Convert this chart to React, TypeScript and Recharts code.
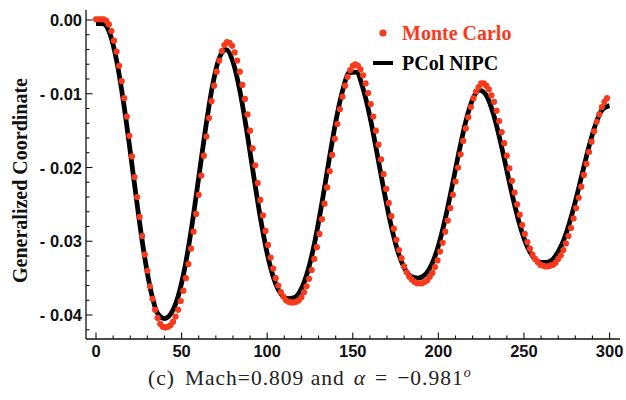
import React from 'react';
import { ComposedChart, Scatter, Line, XAxis, YAxis, Legend } from 'recharts';

// Monte Carlo samples, one every 1.5 time units starting at 0
const mcStep = 1.5;
const mcValues = [
  0.0001, 0.0001, 0.0001, 0.0001, -0.0001, -0.0006, -0.0015, -0.0028, -0.0043, -0.0062,
  -0.0083, -0.0106, -0.0131, -0.0157, -0.0185, -0.0213, -0.024, -0.0267, -0.0293, -0.0318,
  -0.034, -0.0361, -0.0378, -0.0393, -0.0404, -0.0412, -0.0416, -0.0417, -0.0416, -0.0414,
  -0.0409, -0.0402, -0.0393, -0.0381, -0.0367, -0.035, -0.0331, -0.031, -0.0287, -0.0263,
  -0.0237, -0.0211, -0.0184, -0.0158, -0.0133, -0.011, -0.0089, -0.007, -0.0055, -0.0042,
  -0.0034, -0.003, -0.0031, -0.0035, -0.0044, -0.0055, -0.007, -0.0088, -0.0107, -0.0128,
  -0.015, -0.0174, -0.0197, -0.0221, -0.0244, -0.0265, -0.0286, -0.0305, -0.0322, -0.0337,
  -0.035, -0.036, -0.0369, -0.0375, -0.038, -0.0382, -0.0383, -0.0383, -0.0382, -0.038,
  -0.0376, -0.0369, -0.0361, -0.0351, -0.0339, -0.0324, -0.0308, -0.029, -0.027, -0.0249,
  -0.0227, -0.0205, -0.0183, -0.0161, -0.0141, -0.0121, -0.0104, -0.0089, -0.0077, -0.0068,
  -0.0062, -0.006, -0.0062, -0.0067, -0.0075, -0.0086, -0.0099, -0.0114, -0.0131, -0.015,
  -0.0169, -0.0189, -0.0209, -0.0229, -0.0248, -0.0266, -0.0283, -0.0298, -0.0312, -0.0323,
  -0.0334, -0.0342, -0.0348, -0.0352, -0.0355, -0.0357, -0.0357, -0.0357, -0.0355, -0.0353,
  -0.0348, -0.0343, -0.0335, -0.0326, -0.0314, -0.0302, -0.0287, -0.0272, -0.0255, -0.0237,
  -0.0219, -0.02, -0.0182, -0.0164, -0.0147, -0.0132, -0.0118, -0.0106, -0.0097, -0.0091,
  -0.0086, -0.0086, -0.0089, -0.0094, -0.0102, -0.0111, -0.0123, -0.0137, -0.0152, -0.0167,
  -0.0184, -0.0201, -0.0218, -0.0234, -0.025, -0.0264, -0.0278, -0.029, -0.0301, -0.031,
  -0.0318, -0.0324, -0.0328, -0.0332, -0.0333, -0.0334, -0.0334, -0.0333, -0.0332, -0.0329,
  -0.0324, -0.0319, -0.0312, -0.0303, -0.0293, -0.0282, -0.0269, -0.0255, -0.0241, -0.0226,
  -0.021, -0.0195, -0.0179, -0.0165, -0.0151, -0.0138, -0.0128, -0.0118, -0.0111, -0.0106,
];

// PCol NIPC curve, one value every 4 time units from 0 to 300
const nipcStep = 4;
const nipcValues = [
  -0.0005, -0.0005, -0.00178, -0.00544, -0.01102, -0.01782, -0.02495, -0.03152, -0.03668, -0.03978,
  -0.04048, -0.03974, -0.03746, -0.03345, -0.0279, -0.02138, -0.01474, -0.00899, -0.00516, -0.00402,
  -0.00566, -0.00954, -0.01494, -0.02097, -0.02677, -0.03165, -0.03516, -0.03714, -0.03779, -0.03762,
  -0.03642, -0.03383, -0.02986, -0.0248, -0.0192, -0.01386, -0.00961, -0.00712, -0.00708, -0.0093,
  -0.01308, -0.01785, -0.02287, -0.02747, -0.03113, -0.03357, -0.03477, -0.035, -0.0346, -0.0332,
  -0.03063, -0.02697, -0.02256, -0.01794, -0.01378, -0.01079, -0.00952, -0.01022, -0.01262, -0.01623,
  -0.02042, -0.02456, -0.02813, -0.03076, -0.03231, -0.03287, -0.03282, -0.03213, -0.03052, -0.02796,
  -0.02463, -0.02086, -0.01714, -0.01403, -0.01207, -0.0116,
];

const xMajorTicks = [0, 50, 100, 150, 200, 250, 300];
const xTicks = [
  0, 10, 20, 30, 40, 50, 60, 70, 80, 90, 100, 110, 120, 130, 140, 150,
  160, 170, 180, 190, 200, 210, 220, 230, 240, 250, 260, 270, 280, 290, 300,
];
const yMajorTicks = [0, -0.01, -0.02, -0.03, -0.04];
const yTicks = [
  0, -0.002, -0.004, -0.006, -0.008, -0.01, -0.012, -0.014, -0.016, -0.018, -0.02,
  -0.022, -0.024, -0.026, -0.028, -0.03, -0.032, -0.034, -0.036, -0.038, -0.04, -0.042,
];

const monteCarlo = mcValues.map((y, i) => ({ t: i * mcStep, y }));
const nipc = nipcValues.map((y, i) => ({ t: i * nipcStep, y }));

const RED = '#f83a1c';
const X_DOMAIN: [number, number] = [-5.84, 306.1];
const Y_DOMAIN: [number, number] = [-0.043254, 0.001356];
const tickFont = "'Liberation Sans', Arial, sans-serif";
const serif = "'Liberation Serif', 'Times New Roman', serif";

const inList = (list: number[], v: number) => list.some((m) => Math.abs(m - v) < 1e-9);

const BottomTick = ({ x, y, payload }: any) => {
  const major = inList(xMajorTicks, payload.value);
  return (
    <g>
      <line x1={x} x2={x} y1={y} y2={y - (major ? 6.5 : 3.5)} stroke="#111" strokeWidth={1.1} />
      {major && (
        <text x={x} y={y + 18} textAnchor="middle" fontFamily={tickFont} fontWeight="bold" fontSize={16.5} fill="#111">
          {payload.value}
        </text>
      )}
    </g>
  );
};

const TopTick = ({ x, y, payload }: any) => {
  const major = inList(xMajorTicks, payload.value);
  return <line x1={x} x2={x} y1={y} y2={y + (major ? 6.5 : 3.5)} stroke="#555" strokeWidth={1.1} />;
};

const LeftTick = ({ x, y, payload }: any) => {
  const major = inList(yMajorTicks, payload.value);
  const v = payload.value;
  const label = Math.abs(v) < 1e-12 ? '0.00' : '- ' + Math.abs(v).toFixed(2);
  return (
    <g>
      <line x1={x} x2={x + (major ? 6.5 : 3.5)} y1={y} y2={y} stroke="#111" strokeWidth={1.1} />
      {major && (
        <text x={x - 4} y={y + 6} textAnchor="end" fontFamily={tickFont} fontWeight="bold" fontSize={16.5} fill="#111">
          {label}
        </text>
      )}
    </g>
  );
};

const RightTick = ({ x, y, payload }: any) => {
  const major = inList(yMajorTicks, payload.value);
  return <line x1={x} x2={x - (major ? 6.5 : 3.5)} y1={y} y2={y} stroke="#555" strokeWidth={1.1} />;
};

const YLabel = ({ viewBox }: any) => {
  const cx = 27;
  const cy = viewBox ? viewBox.y + viewBox.height / 2 + 6 : 181;
  return (
    <text
      x={cx}
      y={cy}
      transform={`rotate(-90, ${cx}, ${cy})`}
      textAnchor="middle"
      fontFamily={serif}
      fontWeight="bold"
      fontSize={20}
      fill="#111"
    >
      Generalized Coordinate
    </text>
  );
};

const Caption = () => (
  <text x={148} y={385} fontFamily={serif} fontSize={21.5} letterSpacing={1} fill="#222">
    (c)
    <tspan dx={10}>Mach=0.809 and</tspan>
    <tspan dx={9} fontStyle="italic">α</tspan>
    <tspan dx={9}>=</tspan>
    <tspan dx={9}>−0.981</tspan>
    <tspan fontStyle="italic" fontSize={14} dy={-8}>o</tspan>
  </text>
);

const LegendContent = ({ payload }: any) => (
  <div>
    {(payload || []).map((entry: any) => (
      <svg key={entry.value} width={220} height={30} style={{ display: 'block' }}>
        {entry.type === 'line' ? (
          <line x1={5} x2={25} y1={15} y2={15} stroke={entry.color} strokeWidth={4} />
        ) : (
          <circle cx={15} cy={15} r={3.6} fill={entry.color} />
        )}
        <text x={34} y={22} fill={entry.color} fontFamily={serif} fontWeight="bold" fontSize={20}>
          {entry.value}
        </text>
      </svg>
    ))}
  </div>
);

const Dot = (props: any) => <circle cx={props.cx} cy={props.cy} r={3.1} fill={RED} />;

export default function App() {
  return (
    <div style={{ position: 'absolute', left: 0, top: 0, width: 626, height: 400, background: '#fff' }}>
      <ComposedChart width={626} height={400} margin={{ top: 10, right: 6, bottom: 0, left: 0 }}>
        <XAxis
          dataKey="t"
          type="number"
          domain={X_DOMAIN}
          allowDataOverflow
          ticks={xTicks}
          interval={0}
          height={61}
          tickSize={0}
          tickMargin={0}
          tickLine={false}
          tick={<BottomTick />}
          axisLine={{ stroke: '#111', strokeWidth: 1.3 }}
          label={<Caption />}
        />
        <XAxis
          xAxisId="top"
          orientation="top"
          dataKey="t"
          type="number"
          domain={X_DOMAIN}
          allowDataOverflow
          ticks={xTicks}
          interval={0}
          height={0}
          tickSize={0}
          tickMargin={0}
          tickLine={false}
          tick={<TopTick />}
          axisLine={{ stroke: '#555', strokeWidth: 1.1 }}
        />
        <YAxis
          dataKey="y"
          type="number"
          domain={Y_DOMAIN}
          allowDataOverflow
          ticks={yTicks}
          interval={0}
          width={86}
          tickSize={0}
          tickMargin={0}
          tickLine={false}
          tick={<LeftTick />}
          axisLine={{ stroke: '#111', strokeWidth: 1.3 }}
          label={<YLabel />}
        />
        <YAxis
          yAxisId="right"
          orientation="right"
          dataKey="y"
          type="number"
          domain={Y_DOMAIN}
          allowDataOverflow
          ticks={yTicks}
          interval={0}
          width={0}
          tickSize={0}
          tickMargin={0}
          tickLine={false}
          tick={<RightTick />}
          axisLine={{ stroke: '#555', strokeWidth: 1.1 }}
        />
        <Legend
          layout="vertical"
          align="center"
          verticalAlign="middle"
          content={<LegendContent />}
          wrapperStyle={{ left: 368, top: 18, width: 220, height: 60 }}
        />
        <Scatter
          name="Monte Carlo"
          data={monteCarlo}
          dataKey="y"
          xAxisId="top"
          yAxisId="right"
          fill={RED}
          shape={<Dot />}
          legendType="circle"
          isAnimationActive={false}
        />
        <Line
          name="PCol NIPC"
          data={nipc}
          dataKey="y"
          type="monotone"
          stroke="#000"
          strokeWidth={4.8}
          dot={false}
          activeDot={false}
          legendType="line"
          isAnimationActive={false}
        />
      </ComposedChart>
    </div>
  );
}
